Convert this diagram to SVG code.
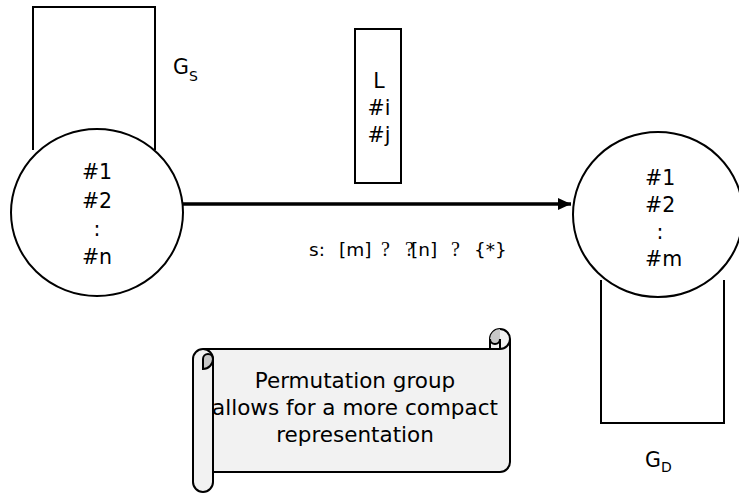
<svg xmlns="http://www.w3.org/2000/svg" width="739" height="493" viewBox="0 0 739 493">
<style>
.t{font-family:"DejaVu Sans","Liberation Sans",sans-serif;font-size:20.5px;fill:#000}
.c{text-anchor:middle}
.sub{font-size:14px}
.big{font-size:21.5px}
.lb{font-size:18.5px}
.q{font-family:"Liberation Serif",serif;font-size:20px}
.ln{fill:none;stroke:#000;stroke-width:2}
</style>
<defs>
<marker id="ah" markerWidth="13" markerHeight="12" refX="13" refY="6" orient="auto" markerUnits="userSpaceOnUse">
<path d="M0,0 L13,6 L0,12 Z" fill="#000"/>
</marker>
</defs>
<rect width="739" height="493" fill="#fff"/>
<g id="gs-loop">
<path class="ln" d="M33,150 L33,7 L155,7 L155,150"/>
<text class="t" x="173" y="74">G<tspan class="sub" dy="7">S</tspan></text>
</g>
<g id="source">
<ellipse cx="97" cy="212.5" rx="86" ry="83.5" fill="#fff" stroke="#000" stroke-width="2"/>
<text class="t c" x="97" y="179">#1</text>
<text class="t c" x="97" y="208">#2</text>
<text class="t c" x="97" y="236">:</text>
<text class="t c" x="97" y="264">#n</text>
</g>
<g id="gd-loop">
<path class="ln" d="M601,280 L601,423 L724,423 L724,280"/>
<text class="t" x="645" y="467">G<tspan class="sub" dy="5">D</tspan></text>
</g>
<g id="dest">
<ellipse cx="658" cy="214.5" rx="85" ry="82.5" fill="#fff" stroke="#000" stroke-width="2"/>
<text class="t" x="645" y="185">#1</text>
<text class="t" x="645" y="212">#2</text>
<text class="t c" x="660" y="239">:</text>
<text class="t" x="645" y="266">#m</text>
</g>
<g id="label-box">
<rect x="355" y="29" width="46" height="154" fill="#fff" stroke="#000" stroke-width="2"/>
<text class="t c" x="379" y="88">L</text>
<text class="t c" x="379" y="115">#i</text>
<text class="t c" x="379" y="142">#j</text>
</g>
<g id="connectors">
<line x1="183" y1="204" x2="571" y2="204" stroke="#000" stroke-width="3.5" marker-end="url(#ah)"/>
<text class="t lb" x="309" y="256">s:</text>
<text class="t lb" x="339" y="256">[m]</text>
<text class="q" x="381" y="256">?</text>
<text class="q" x="405" y="256">?</text>
<text class="t lb" x="411" y="256">[n]</text>
<text class="q" x="451" y="256">?</text>
<text class="t lb" x="474" y="256">{*}</text>
</g>
<g id="scroll-note">
<path d="M193,359 A10,10 0 0 1 203,349 L490,349 L490,339 A10,10 0 0 1 510,339 L510,462 A10,10 0 0 1 500,472 L213,472 L213,482 A10,10 0 0 1 193,482 Z" fill="#f2f2f2" stroke="#000" stroke-width="2"/>
<path d="M490,339 A10,10 0 0 1 500,329 L500,339 A5,5 0 0 1 490,339 Z" fill="#c8c8c8" stroke="none"/>
<path class="ln" d="M490,349 L500,349 A10,10 0 0 0 510,339 M500,349 L500,339 A5,5 0 0 1 490,339"/>
<path d="M203,369 A10,10 0 0 0 213,359 A5,5 0 0 0 203,359 Z" fill="#c8c8c8" stroke="#000" stroke-width="2"/>
<path class="ln" d="M203,349 A10,10 0 0 1 213,359 L213,472"/>
<text class="t c big" x="355" y="388">Permutation group</text>
<text class="t c big" x="355" y="415">allows for a more compact</text>
<text class="t c big" x="355" y="442">representation</text>
</g>
</svg>
